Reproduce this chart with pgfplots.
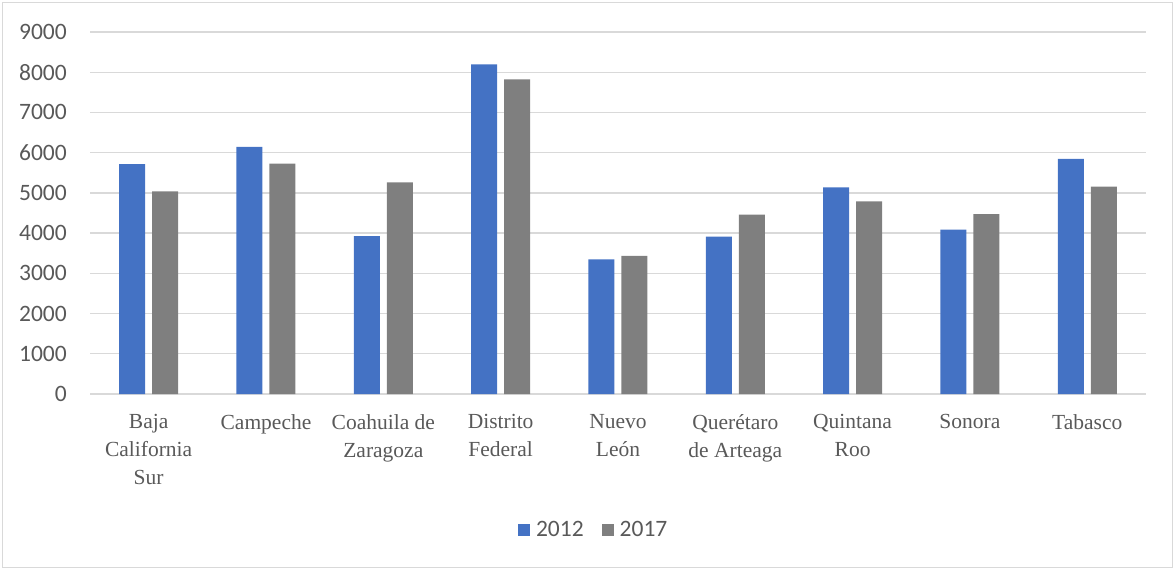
\documentclass[border=0pt]{standalone}
\usepackage{pgfplots}
\pgfplotsset{compat=1.18}
\usepackage{fontspec}
\setmainfont{Liberation Serif}
\newfontfamily\calibri{Carlito}
\definecolor{cblue}{HTML}{4472C4}
\definecolor{cgray}{HTML}{7F7F7F}
\definecolor{gridc}{HTML}{D9D9D9}
\definecolor{txt}{HTML}{595959}
\begin{document}
\begin{tikzpicture}[x=1pt,y=1pt]
\path[use as bounding box] (0,0) rectangle (1175,570);
\draw[draw=gridc, line width=1.3pt] (2.5,2.5) rectangle (1172.5,567.5);
\begin{axis}[
  at={(90pt,176pt)}, anchor=south west,
  scale only axis, width=1056pt, height=362pt,
  ybar=7pt, bar width=26pt,
  xmin=-0.5, xmax=8.5, ymin=0, ymax=9000,
  xtick={0,1,2,3,4,5,6,7,8},
  xticklabels={{Baja\\California\\Sur},{Campeche},{Coahuila de\\Zaragoza},{Distrito\\Federal},{Nuevo\\León},{Querétaro\\de Arteaga},{Quintana\\Roo},{Sonora},{Tabasco}},
  ytick={0,1000,...,9000},
  ymajorgrids, grid style={draw=gridc, line width=1.3pt},
  axis lines*=left, axis line style={draw=none},
  major tick length=0pt,
  /pgf/number format/assume math mode=true,
  /pgf/number format/1000 sep={},
  xticklabel style={font=\fontsize{21.5}{28}\selectfont, text=txt, align=center, anchor=north, inner sep=0pt, yshift=-20pt},
  yticklabel style={font=\calibri\fontsize{23.5}{28}\selectfont, text=txt, anchor=east, inner sep=0pt, xshift=-23pt},
  legend style={at={(0.477,-0.376)}, anchor=center, draw=none, fill=none, legend columns=2,
    font=\calibri\fontsize{23.5}{28}\selectfont, text=txt,
    /tikz/every even column/.append style={column sep=16pt}},
  legend image code/.code={\fill[#1] (0pt,-6pt) rectangle (12pt,6pt); \path (16pt,0pt);},
]
\addplot[fill=cblue, draw=none] coordinates {(0,5718) (1,6141) (2,3928) (3,8197) (4,3348) (5,3911) (6,5139) (7,4085) (8,5843)};
\addplot[fill=cgray, draw=none] coordinates {(0,5040) (1,5726) (2,5263) (3,7824) (4,3431) (5,4458) (6,4790) (7,4475) (8,5155)};
\legend{2012,2017}
\end{axis}
\end{tikzpicture}
\end{document}
